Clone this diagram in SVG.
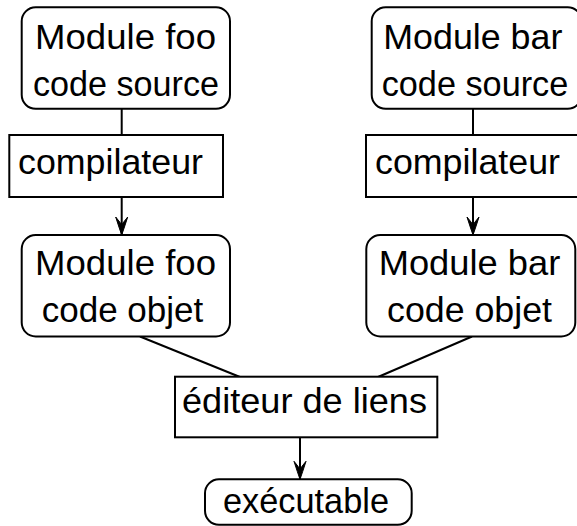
<svg xmlns="http://www.w3.org/2000/svg" width="577" height="526" viewBox="0 0 577 526">
<style>
.box{fill:#fff;stroke:#000;stroke-width:2}
.t{font-family:"Liberation Sans","DejaVu Sans",sans-serif;font-size:35px;fill:#000;text-anchor:middle}
.c{fill:none;stroke:#000;stroke-width:2}
</style>
<defs>
<marker id="arr" viewBox="-20 -8 22 16" markerWidth="22" markerHeight="16" refX="0" refY="0" orient="auto" markerUnits="userSpaceOnUse" overflow="visible">
<path d="M-18,-6 Q-7,-2.5 0,0 Q-7,2.5 -18,6 Q-12,1 -10,0 Q-12,-1 -18,-6 Z" fill="#000" stroke="#000" stroke-width="1" stroke-linejoin="round"/>
</marker>
</defs>
<rect width="577" height="526" fill="#fff"/>
<g id="connectors">
<line class="c" x1="121.7" y1="108.5" x2="121.7" y2="135"/>
<line class="c" x1="121.7" y1="197" x2="121.7" y2="235" marker-end="url(#arr)"/>
<line class="c" x1="473" y1="108.5" x2="473" y2="135"/>
<line class="c" x1="473" y1="197" x2="473" y2="235" marker-end="url(#arr)"/>
<line class="c" x1="140" y1="336.5" x2="240" y2="377"/>
<line class="c" x1="472" y1="336.5" x2="378" y2="377"/>
<line class="c" x1="300" y1="437.3" x2="300" y2="479.3" marker-end="url(#arr)"/>
</g>
<g id="foo-source">
<rect class="box" x="21.7" y="7.3" width="208.3" height="101.5" rx="14"/>
<text class="t" x="125.5" y="48.5" textLength="181" lengthAdjust="spacingAndGlyphs">Module foo</text>
<text class="t" x="126" y="96" textLength="186" lengthAdjust="spacingAndGlyphs">code source</text>
</g>
<g id="bar-source">
<rect class="box" x="371.7" y="7.3" width="210" height="101.5" rx="14"/>
<text class="t" x="472.8" y="48.5" textLength="179" lengthAdjust="spacingAndGlyphs">Module bar</text>
<text class="t" x="475" y="96" textLength="186.6" lengthAdjust="spacingAndGlyphs">code source</text>
</g>
<g id="foo-compilateur">
<rect class="box" x="9.3" y="135" width="213.7" height="62"/>
<text class="t" x="110.5" y="174" textLength="185" lengthAdjust="spacingAndGlyphs">compilateur</text>
</g>
<g id="bar-compilateur">
<rect class="box" x="366" y="135" width="214" height="62"/>
<text class="t" x="467.5" y="174" textLength="185" lengthAdjust="spacingAndGlyphs">compilateur</text>
</g>
<g id="foo-objet">
<rect class="box" x="21.7" y="235" width="208.3" height="101.5" rx="14"/>
<text class="t" x="125.5" y="274.5" textLength="181" lengthAdjust="spacingAndGlyphs">Module foo</text>
<text class="t" x="122.5" y="322" textLength="161.6" lengthAdjust="spacingAndGlyphs">code objet</text>
</g>
<g id="bar-objet">
<rect class="box" x="366.3" y="235" width="209" height="101.5" rx="14"/>
<text class="t" x="469.5" y="274.5" textLength="181.6" lengthAdjust="spacingAndGlyphs">Module bar</text>
<text class="t" x="469.5" y="322" textLength="165" lengthAdjust="spacingAndGlyphs">code objet</text>
</g>
<g id="editeur">
<rect class="box" x="175" y="376.7" width="262.3" height="60.6"/>
<text class="t" x="304.5" y="413.3" textLength="245" lengthAdjust="spacingAndGlyphs">éditeur de liens</text>
</g>
<g id="executable">
<rect class="box" x="205" y="479.3" width="206.7" height="45.5" rx="14"/>
<text class="t" x="306" y="512.7" textLength="166" lengthAdjust="spacingAndGlyphs">exécutable</text>
</g>
</svg>
